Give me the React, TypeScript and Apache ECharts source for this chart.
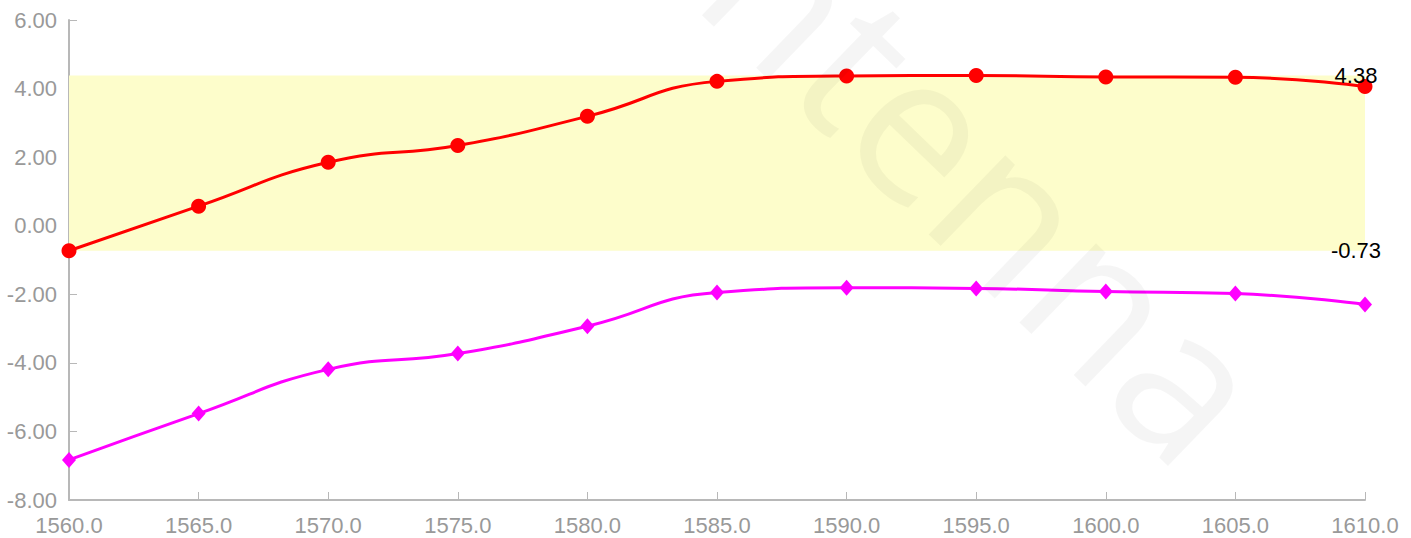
import React, { useEffect, useRef } from "react";
import * as echarts from "echarts";

const years = [1560, 1565, 1570, 1575, 1580, 1585, 1590, 1595, 1600, 1605, 1610];
const upperValues = [-0.73, 0.57, 1.85, 2.34, 3.19, 4.21, 4.37, 4.38, 4.34, 4.33, 4.06];
const lowerValues = [-6.83, -5.48, -4.19, -3.73, -2.93, -1.95, -1.81, -1.83, -1.92, -1.98, -2.3];
const bandMin = -0.73;
const bandMax = 4.38;
const watermarkText = "antenna";

const FONT = '"Liberation Sans", Arial, sans-serif';
const AXIS_COLOR = "#b8b8b8";

export default function App() {
  const ref = useRef<HTMLDivElement>(null);

  useEffect(() => {
    if (!ref.current) return;
    const chart = echarts.init(ref.current, undefined, { renderer: "svg" });
    const upper = years.map((y, i) => [y, upperValues[i]]);
    const lower = years.map((y, i) => [y, lowerValues[i]]);
    const xMin = years[0];
    const xMax = years[years.length - 1];

    chart.setOption({
      animation: false,
      backgroundColor: "#ffffff",
      textStyle: { fontFamily: FONT },
      grid: { left: 69, right: 46, top: 20, bottom: 38, containLabel: false },
      xAxis: {
        type: "value",
        min: xMin,
        max: xMax,
        interval: 5,
        axisLine: { show: true, onZero: false, lineStyle: { color: AXIS_COLOR, width: 2 } },
        axisTick: { show: true, inside: true, length: 8, lineStyle: { color: AXIS_COLOR, width: 1 } },
        splitLine: { show: false },
        axisLabel: {
          color: "#999999",
          fontSize: 22,
          fontFamily: FONT,
          margin: 14,
          formatter: (v: number) => v.toFixed(1),
        },
      },
      yAxis: {
        type: "value",
        min: -8,
        max: 6,
        interval: 2,
        axisLine: { show: true, onZero: false, lineStyle: { color: AXIS_COLOR, width: 2 } },
        axisTick: { show: true, inside: true, length: 8, lineStyle: { color: AXIS_COLOR, width: 1 } },
        splitLine: { show: false },
        axisLabel: {
          color: "#999999",
          fontSize: 22,
          fontFamily: FONT,
          margin: 12,
          formatter: (v: number) => v.toFixed(2),
        },
      },
      series: [
        {
          type: "line",
          data: upper,
          smooth: true,
          symbol: "circle",
          symbolSize: 15,
          z: 3,
          lineStyle: { color: "#ff0000", width: 3 },
          itemStyle: { color: "#ff0000" },
          markArea: {
            silent: true,
            itemStyle: { color: "#fdfdcb" },
            data: [[{ xAxis: xMin, yAxis: bandMin }, { xAxis: xMax, yAxis: bandMax }]],
          },
          markPoint: {
            symbol: "circle",
            symbolSize: 1,
            itemStyle: { color: "rgba(0,0,0,0)" },
            label: {
              show: true,
              position: "inside",
              offset: [-9, 0],
              color: "#000000",
              fontSize: 22,
              fontFamily: FONT,
              formatter: (p: any) => Number(p.value).toFixed(2),
            },
            data: [
              { coord: [xMax, bandMax], value: bandMax },
              { coord: [xMax, bandMin], value: bandMin },
            ],
          },
        },
        {
          type: "line",
          data: lower,
          smooth: true,
          symbol: "diamond",
          symbolSize: [14, 16],
          z: 3,
          lineStyle: { color: "#ff00ff", width: 3 },
          itemStyle: { color: "#ff00ff" },
        },
      ],
      graphic: [
        {
          type: "text",
          x: 949,
          y: 143,
          rotation: (-44 * Math.PI) / 180,
          z: 100,
          silent: true,
          style: {
            text: watermarkText,
            fontSize: 206,
            fontFamily: '"Open Sans", "Noto Sans", sans-serif',
            fill: "rgba(0,0,0,0.04)",
            textAlign: "center",
            textVerticalAlign: "middle",
          },
        },
      ],
    });
    return () => chart.dispose();
  }, []);

  return (
    <div
      ref={ref}
      style={{ position: "fixed", left: 0, top: 0, width: 1411, height: 538 }}
    />
  );
}
